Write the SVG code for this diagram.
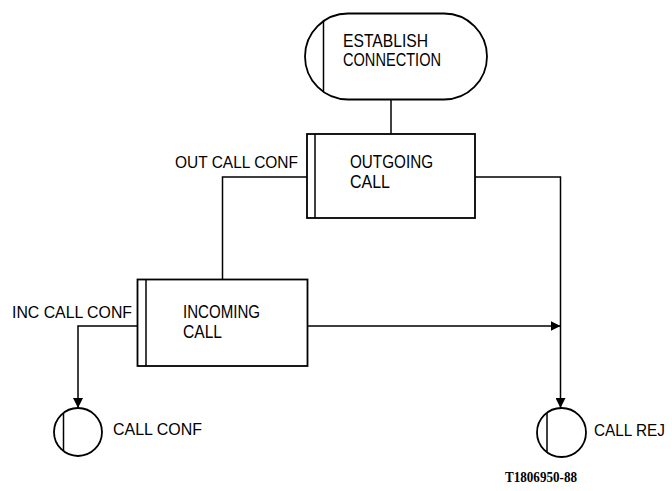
<svg xmlns="http://www.w3.org/2000/svg" width="672" height="491" viewBox="0 0 672 491">
<style>
.shape{fill:none;stroke:#000;stroke-width:1.8}
.thin{fill:none;stroke:#000;stroke-width:1.5}
.conn{fill:none;stroke:#000;stroke-width:1.5}
.t{font-family:"Liberation Sans",Arial,sans-serif;font-size:18px;fill:#000}
.lbl{font-family:"Liberation Sans",Arial,sans-serif;font-size:17px;fill:#000}
.ref{font-family:"Liberation Serif","Times New Roman",serif;font-size:14px;font-weight:bold;fill:#000}
</style>
<defs>
<marker id="ah" viewBox="0 0 10 10" refX="10" refY="5" markerWidth="10" markerHeight="10" markerUnits="userSpaceOnUse" orient="auto">
<path d="M0,0 L10,5 L0,10 Z" fill="#000"/>
</marker>
</defs>
<rect width="672" height="491" fill="#fff"/>
<g id="connectors">
<path class="conn" d="M391,99 V134"/>
<path class="conn" d="M307,177 H222.5 V279.5"/>
<path class="conn" d="M475,177 H560.5 V408" marker-end="url(#ah)"/>
<path class="conn" d="M307,326 H560.5" marker-end="url(#ah)"/>
<path class="conn" d="M137.5,326 H78 V408" marker-end="url(#ah)"/>
</g>
<g id="establish-connection">
<rect class="shape" x="305" y="13.5" width="182" height="86" rx="43" ry="43"/>
<line class="thin" x1="323.5" y1="21.5" x2="323.5" y2="91"/>
<text class="t" x="343" y="47" textLength="85" lengthAdjust="spacingAndGlyphs">ESTABLISH</text>
<text class="t" x="343" y="66" textLength="98" lengthAdjust="spacingAndGlyphs">CONNECTION</text>
</g>
<g id="outgoing-call">
<rect class="shape" x="307" y="134" width="168" height="84"/>
<line class="thin" x1="315" y1="134" x2="315" y2="218"/>
<text class="t" x="350" y="168" textLength="83" lengthAdjust="spacingAndGlyphs">OUTGOING</text>
<text class="t" x="350" y="188" textLength="40" lengthAdjust="spacingAndGlyphs">CALL</text>
</g>
<text class="lbl" x="175" y="168" textLength="123" lengthAdjust="spacingAndGlyphs">OUT CALL CONF</text>
<g id="incoming-call">
<rect class="shape" x="137.5" y="279.5" width="170" height="86.5"/>
<line class="thin" x1="146" y1="279.5" x2="146" y2="366"/>
<text class="t" x="183" y="318" textLength="77" lengthAdjust="spacingAndGlyphs">INCOMING</text>
<text class="t" x="183" y="338" textLength="39" lengthAdjust="spacingAndGlyphs">CALL</text>
</g>
<text class="lbl" x="12" y="318" textLength="120" lengthAdjust="spacingAndGlyphs">INC CALL CONF</text>
<g id="call-conf">
<circle class="shape" cx="78" cy="432" r="24"/>
<line class="thin" x1="63.5" y1="413" x2="63.5" y2="451"/>
<text class="lbl" x="113" y="435" textLength="89" lengthAdjust="spacingAndGlyphs">CALL CONF</text>
</g>
<g id="call-rej">
<circle class="shape" cx="561.5" cy="432.5" r="24.5"/>
<line class="thin" x1="547" y1="413" x2="547" y2="452"/>
<text class="lbl" x="594" y="436" textLength="71" lengthAdjust="spacingAndGlyphs">CALL REJ</text>
</g>
<text class="ref" x="505" y="482" textLength="72" lengthAdjust="spacingAndGlyphs">T1806950-88</text>
</svg>
